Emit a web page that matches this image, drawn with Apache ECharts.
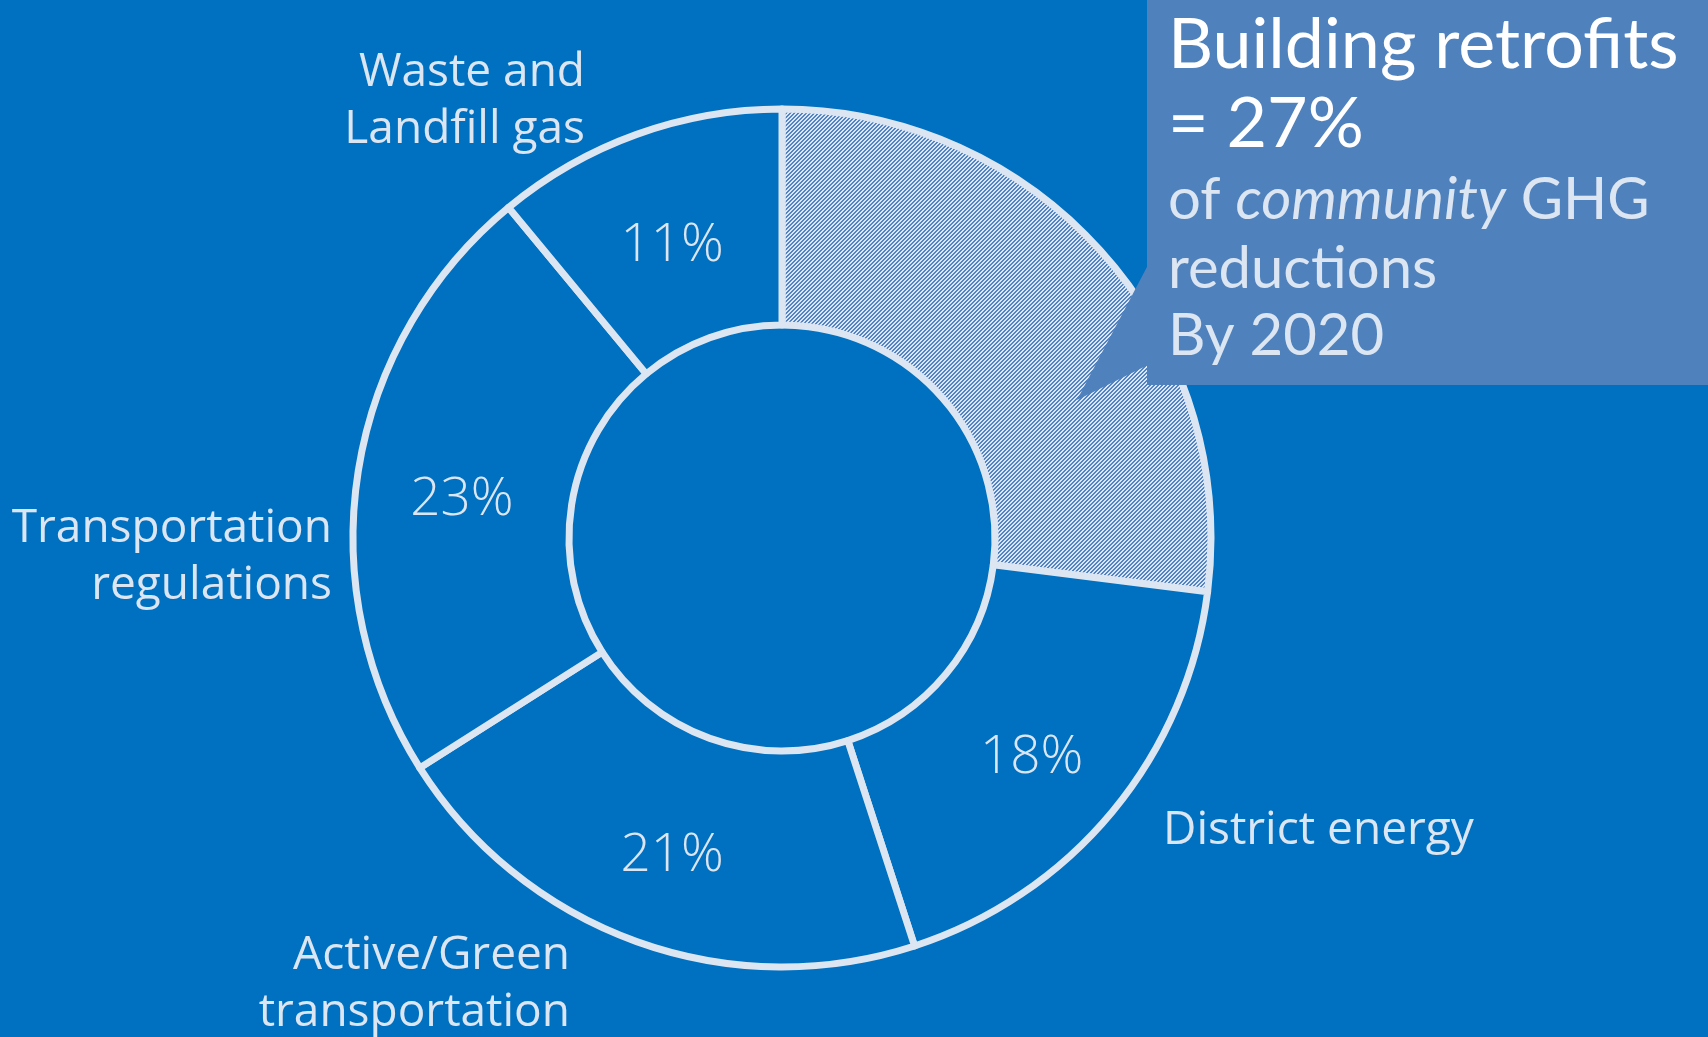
<!DOCTYPE html>
<html>
<head>
<meta charset="utf-8">
<script src="https://cdn.jsdelivr.net/npm/echarts@6/dist/echarts.min.js"></script>
<style>
html,body{margin:0;padding:0;background:#0070C0;}
#chart{width:1708px;height:1037px;}
</style>
</head>
<body>
<div id="chart"></div>
<script>
// ---- data ----
const categories = ['Building retrofits', 'District energy', 'Active/Green\ntransportation', 'Transportation\nregulations', 'Waste and\nLandfill gas'];
const values = [27, 18, 21, 23, 11];
const calloutNote = ['of ', 'community', ' GHG', 'reductions', 'By 2020'];

// ---- layout (not data) ----
const outerLabelAnchors = [null, [1163, 831, 'left'], [570, 984, 'right'], [332, 557, 'right'], [585, 101, 'right']];

const BG = '#0070C0';
const LIGHT = '#DCE6F2';
const BOX = '#4F81BD';

function hatchCanvas() {
  const c = document.createElement('canvas');
  c.width = 8; c.height = 8;
  const g = c.getContext('2d');
  g.fillStyle = '#5184C4';
  g.fillRect(0, 0, 8, 8);
  g.fillStyle = LIGHT;
  for (let y = 0; y < 8; y++) for (let x = 0; x < 8; x++) {
    if (((x + y) % 4) < 2) g.fillRect(x, y, 1, 1);
  }
  return c;
}
const hatch = hatchCanvas();

const chart = echarts.init(document.getElementById('chart'), null, {renderer: 'canvas'});

const ringData = categories.map((n, i) => ({
  name: n,
  value: values[i],
  itemStyle: i === 0 ? {color: {image: hatch, repeat: 'repeat'}} : {color: BG},
  label: i === 0 ? {show: false} : {}
}));
const nameData = categories.map((n, i) => ({
  name: n,
  value: values[i],
  label: i === 0 ? {show: false} : {}
}));

const CENTER = [782, 538];
const RADIUS = [213, 429];

chart.setOption({
  backgroundColor: BG,
  animation: false,
  series: [
    {
      type: 'pie',
      center: CENTER,
      radius: RADIUS,
      startAngle: 90,
      clockwise: true,
      silent: true,
      z: 2,
      data: ringData,
      itemStyle: {borderColor: LIGHT, borderWidth: 7},
      label: {
        show: true, position: 'inside', formatter: '{c}%', offset: [0, 13],
        color: LIGHT, fontFamily: 'Open Sans', fontWeight: 300, fontSize: 53
      },
      labelLine: {show: false}
    },
    {
      type: 'pie',
      center: CENTER,
      radius: RADIUS,
      startAngle: 90,
      clockwise: true,
      silent: true,
      z: 1,
      data: nameData,
      itemStyle: {color: 'rgba(0,0,0,0)', borderWidth: 0},
      label: {
        show: true, position: 'outside', formatter: '{b}',
        color: LIGHT, fontFamily: 'Open Sans', fontSize: 46, lineHeight: 57,
        overflow: 'none', width: 600
      },
      labelLine: {show: false},
      labelLayout: function (p) {
        const a = outerLabelAnchors[p.dataIndex];
        if (!a) return {};
        return {x: a[0], y: a[1], align: a[2], verticalAlign: 'middle'};
      }
    }
  ],
  graphic: [
    {type: 'rect', z: 100, shape: {x: 1147, y: 0, width: 561, height: 385}, style: {fill: BOX}},
    {type: 'polygon', z: 100, shape: {points: [[1148, 265], [1077, 400], [1148, 365]]}, style: {fill: BOX}},
    {
      type: 'text', z: 101, x: 1168, y: 6,
      style: {
        text: '{a1|' + categories[0] + '}\n{a2|= ' + values[0] + '%}\n{b3|' + calloutNote[0] + '}{i3|' + calloutNote[1] + '}{b3|' + calloutNote[2] + '}\n{b4|' + calloutNote[3] + '}\n{b5|' + calloutNote[4] + '}',
        align: 'left', verticalAlign: 'top',
        rich: {
          a1: {fontFamily: 'Lato', fontSize: 70, fill: '#FFFFFF', lineHeight: 78},
          a2: {fontFamily: 'Lato', fontSize: 70, fill: '#FFFFFF', lineHeight: 80},
          b3: {fontFamily: 'Lato', fontSize: 58, fill: LIGHT, lineHeight: 72},
          i3: {fontFamily: 'Lato', fontSize: 58, fill: LIGHT, lineHeight: 72, fontStyle: 'italic'},
          b4: {fontFamily: 'Lato', fontSize: 58, fill: LIGHT, lineHeight: 66},
          b5: {fontFamily: 'Lato', fontSize: 58, fill: LIGHT, lineHeight: 68}
        }
      }
    }
  ]
});
</script>
</body>
</html>
